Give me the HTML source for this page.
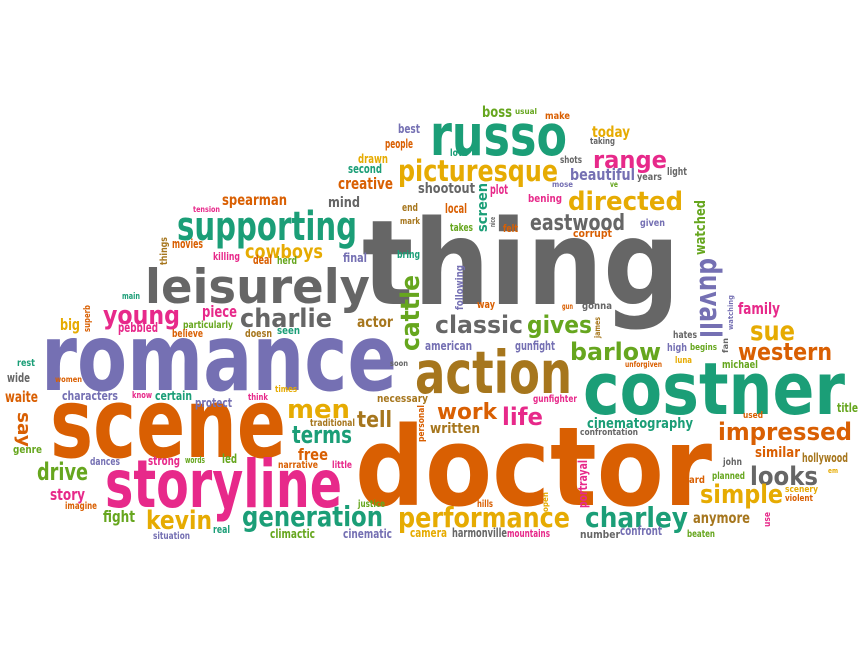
<!DOCTYPE html>
<html>
<head>
<meta charset="utf-8">
<style>
html,body{margin:0;padding:0;background:#fff;}
svg{display:block;}
text{font-family:"DejaVu Sans","Liberation Sans",sans-serif;font-weight:bold;}
</style>
</head>
<body>
<svg id="cloud" width="864" height="648" viewBox="0 0 864 648" xmlns="http://www.w3.org/2000/svg">
<rect x="0" y="0" width="864" height="648" fill="#ffffff"/>
</svg>
<script>
const palette = {g:"#666666",o:"#D95F02",p:"#7570B3",t:"#1B9E77",k:"#E7298A",n:"#66A61E",y:"#E6AB02",b:"#A6761D"};
// word, x, baseline y, length, font size, colour, rotation
const words = [
["thing",362,304,318,118,"g",0],
["doctor",355,505,357,110,"o",0],
["romance",41,390,356,93,"p",0],
["scene",50,457,236,97,"o",0],
["costner",583,414,262,72,"t",0],
["storyline",105,507,237,66,"k",0],
["action",415,393,157,59,"b",0],
["leisurely",145,303,225,47,"g",0],
["russo",430,155,137,57,"t",0],
["supporting",177,240,180,40,"t",0],
["picturesque",398,181,160,29,"y",0],
["directed",568,210,115,26,"y",0],
["range",593,168,74,24,"k",0],
["eastwood",530,230,95,22,"g",0],
["beautiful",570,180,65,16,"p",0],
["cowboys",245,258,78,19,"y",0],
["charlie",240,327,92,26,"g",0],
["young",103,324,77,26,"k",0],
["classic",435,333,88,24,"g",0],
["gives",527,333,65,24,"n",0],
["barlow",570,360,91,24,"n",0],
["sue",750,340,45,27,"y",0],
["western",738,360,94,24,"o",0],
["family",738,314,42,16,"k",0],
["impressed",718,440,134,24,"o",0],
["similar",755,457,45,14,"o",0],
["hollywood",802,462,46,12,"b",0],
["looks",750,485,68,26,"g",0],
["simple",700,503,83,26,"y",0],
["charley",585,527,103,28,"t",0],
["anymore",693,523,57,15,"b",0],
["cinematography",587,428,106,14,"t",0],
["confrontation",580,435,58,9,"g",0],
["performance",398,527,172,28,"y",0],
["generation",242,526,141,28,"t",0],
["kevin",146,529,66,26,"y",0],
["men",287,418,63,26,"y",0],
["terms",292,443,60,24,"t",0],
["tell",357,427,35,22,"b",0],
["work",437,419,60,22,"o",0],
["life",502,425,41,24,"k",0],
["written",430,433,50,14,"b",0],
["gunfighter",533,402,44,10,"k",0],
["necessary",377,402,51,11,"b",0],
["traditional",310,426,45,10,"b",0],
["free",298,460,30,16,"o",0],
["narrative",278,468,40,10,"o",0],
["little",332,468,20,10,"k",0],
["justice",358,507,27,10,"n",0],
["hills",477,507,16,10,"o",0],
["climactic",270,538,45,12,"n",0],
["cinematic",343,538,49,12,"p",0],
["camera",410,537,37,12,"y",0],
["harmonville",452,537,55,12,"g",0],
["mountains",507,537,43,11,"k",0],
["number",580,538,40,11,"g",0],
["confront",620,535,42,12,"p",0],
["beaten",687,537,28,10,"n",0],
["american",425,350,47,12,"p",0],
["gunfight",515,350,40,12,"p",0],
["soon",390,366,18,8,"g",0],
["times",275,392,22,9,"y",0],
["rest",17,366,18,10,"t",0],
["wide",7,382,23,12,"g",0],
["women",55,382,27,8,"o",0],
["waite",5,402,33,15,"o",0],
["characters",62,400,56,12,"p",0],
["know",132,398,20,9,"k",0],
["certain",155,400,37,12,"t",0],
["protect",195,407,37,12,"p",0],
["think",248,400,20,9,"k",0],
["genre",13,453,29,11,"n",0],
["dances",90,465,30,11,"p",0],
["strong",148,465,32,12,"k",0],
["words",185,463,20,9,"n",0],
["led",222,463,15,12,"n",0],
["drive",37,480,51,24,"n",0],
["story",50,500,35,16,"k",0],
["imagine",65,509,32,10,"o",0],
["fight",103,522,32,16,"n",0],
["real",213,533,17,11,"t",0],
["situation",153,539,37,10,"p",0],
["main",122,299,18,9,"t",0],
["big",60,330,20,16,"y",0],
["pebbled",118,332,40,13,"k",0],
["piece",202,317,35,16,"k",0],
["particularly",183,328,50,10,"n",0],
["believe",172,337,31,11,"o",0],
["doesn",245,337,27,11,"b",0],
["seen",277,334,23,11,"t",0],
["actor",357,327,36,15,"b",0],
["final",343,262,24,12,"p",0],
["bring",397,258,23,11,"t",0],
["deal",253,264,19,12,"o",0],
["herd",277,264,20,11,"n",0],
["killing",213,260,27,11,"k",0],
["movies",172,248,31,12,"o",0],
["tension",193,212,27,8,"k",0],
["spearman",222,205,65,15,"o",0],
["mind",328,207,32,14,"g",0],
["creative",338,189,55,16,"o",0],
["second",348,173,34,12,"t",0],
["drawn",358,163,30,12,"y",0],
["people",385,148,28,12,"o",0],
["end",402,211,16,11,"b",0],
["mark",400,224,20,9,"b",0],
["local",445,213,22,13,"o",0],
["takes",450,231,23,11,"n",0],
["felt",503,232,15,11,"o",0],
["plot",490,194,18,13,"k",0],
["shootout",418,193,57,14,"g",0],
["love",450,156,18,10,"t",0],
["best",398,133,22,12,"p",0],
["boss",482,117,30,15,"n",0],
["usual",515,114,22,8,"n",0],
["make",545,119,25,10,"o",0],
["today",592,137,38,15,"y",0],
["taking",590,144,25,9,"g",0],
["shots",560,163,22,10,"g",0],
["mose",552,187,21,8,"p",0],
["ve",610,187,8,8,"n",0],
["years",637,180,25,10,"g",0],
["light",667,175,20,11,"g",0],
["bening",528,202,34,11,"k",0],
["given",640,226,25,10,"p",0],
["corrupt",573,237,39,11,"o",0],
["way",477,308,18,11,"o",0],
["gun",562,309,11,8,"o",0],
["gonna",582,309,30,10,"g",0],
["hates",673,338,24,10,"g",0],
["high",667,351,20,11,"p",0],
["begins",690,350,27,9,"n",0],
["unforgiven",625,367,37,8,"o",0],
["luna",675,363,17,9,"y",0],
["michael",722,368,36,11,"n",0],
["title",837,412,21,12,"n",0],
["used",743,418,20,9,"o",0],
["john",723,465,19,10,"g",0],
["planned",712,479,33,10,"n",0],
["hard",683,483,22,10,"o",0],
["em",828,473,10,7,"y",0],
["scenery",785,492,33,9,"y",0],
["violent",785,501,28,9,"o",0],
["duvall",700,258,80,29,"p",90],
["say",18,412,35,18,"o",90],
["cattle",419,351,76,26,"n",-90],
["watched",705,255,55,14,"n",-90],
["screen",487,232,49,14,"t",-90],
["following",463,310,45,11,"p",-90],
["portrayal",587,508,48,12,"k",-90],
["personal",424,442,37,9,"o",-90],
["superb",90,332,27,9,"o",-90],
["things",167,265,28,10,"b",-90],
["james",600,338,21,8,"b",-90],
["watching",733,330,35,7,"p",-90],
["fan",728,353,15,8,"g",-90],
["nice",495,227,10,7,"g",-90],
["open",548,512,20,8,"y",-90],
["use",770,527,15,9,"k",-90]
];
const svg = document.getElementById('cloud');
const NS = "http://www.w3.org/2000/svg";
words.forEach(function(w){
  const t = document.createElementNS(NS, 'text');
  t.textContent = w[0];
  t.setAttribute('x', w[1]);
  t.setAttribute('y', w[2]);
  t.setAttribute('textLength', w[3]);
  t.setAttribute('lengthAdjust', 'spacingAndGlyphs');
  t.setAttribute('font-size', w[4]);
  t.setAttribute('fill', palette[w[5]]);
  if (w[6] !== 0) t.setAttribute('transform', 'rotate(' + w[6] + ' ' + w[1] + ' ' + w[2] + ')');
  
  
  svg.appendChild(t);
});
</script>
</body>
</html>
